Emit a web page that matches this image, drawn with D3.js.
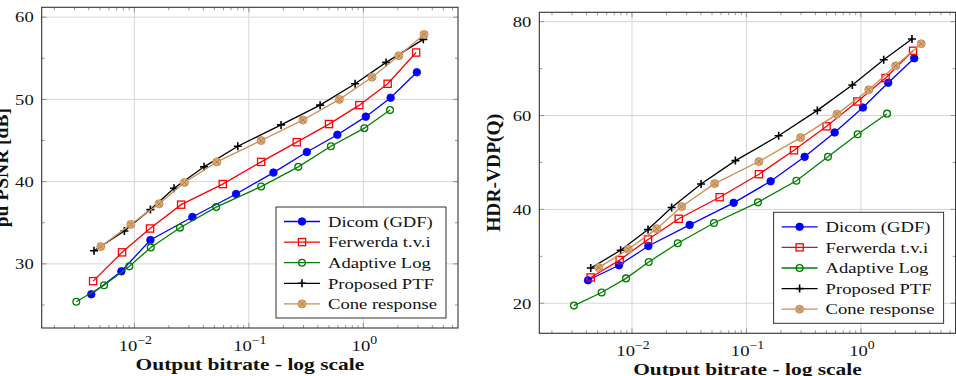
<!DOCTYPE html>
<html>
<head>
<meta charset="utf-8">
<script src="https://cdn.jsdelivr.net/npm/d3@7"></script>
<style>
  html, body { margin: 0; padding: 0; background: #fff; }
  svg { display: block; }
</style>
</head>
<body>
<script>
// ---------------- DATA ----------------
const seriesNames = ["Dicom (GDF)", "Ferwerda t.v.i", "Adaptive Log", "Proposed PTF", "Cone response"];

const xTickValues = [0.01, 0.1, 1];
const xTickExponents = ["\u22122", "\u22121", "0"];

// Left chart: pu PSNR [dB]
const psnrDicomX = [0.0042, 0.0077, 0.0138, 0.0321, 0.0773, 0.164, 0.321, 0.593, 1.05, 1.73, 2.93];
const psnrDicomY = [26.3, 29.1, 32.9, 35.7, 38.5, 41.1, 43.6, 45.7, 47.9, 50.2, 53.3];
const psnrFerwX = [0.00436, 0.0078, 0.0137, 0.0256, 0.0591, 0.128, 0.262, 0.501, 0.922, 1.63, 2.89];
const psnrFerwY = [27.9, 31.4, 34.3, 37.2, 39.7, 42.4, 44.8, 47.0, 49.3, 51.9, 55.7];
const psnrAdaptX = [0.00311, 0.00543, 0.00904, 0.0139, 0.025, 0.0518, 0.128, 0.27, 0.521, 1.02, 1.71];
const psnrAdaptY = [25.4, 27.4, 29.7, 32.0, 34.4, 36.9, 39.4, 41.8, 44.3, 46.5, 48.7];
const psnrPtfX = [0.00444, 0.00818, 0.0138, 0.0222, 0.0406, 0.080, 0.191, 0.419, 0.847, 1.58, 3.34];
const psnrPtfY = [31.6, 34.0, 36.6, 39.2, 41.8, 44.3, 46.9, 49.3, 51.9, 54.5, 57.3];
const psnrConeX = [0.00509, 0.0093, 0.01644, 0.02735, 0.0525, 0.128, 0.297, 0.617, 1.19, 2.04, 3.39];
const psnrConeY = [32.1, 34.8, 37.3, 39.9, 42.4, 45.0, 47.5, 50.0, 52.7, 55.3, 57.9];
const psnrYTicks = [30, 40, 50, 60];
const psnrYMinor = [25, 35, 45, 55];

// Right chart: HDR-VDP(Q)
const vdpDicomX = [0.00413, 0.0077, 0.0139, 0.0319, 0.0773, 0.1626, 0.322, 0.589, 1.04, 1.73, 2.92];
const vdpDicomY = [24.9, 28.1, 32.2, 36.7, 41.4, 46.0, 51.2, 56.4, 61.7, 67.0, 72.2];
const vdpFerwX = [0.00436, 0.0078, 0.0138, 0.0256, 0.0583, 0.1285, 0.260, 0.501, 0.930, 1.64, 2.85];
const vdpFerwY = [25.5, 29.2, 33.6, 38.0, 42.6, 47.5, 52.6, 57.7, 63.0, 68.0, 73.8];
const vdpAdaptX = [0.00311, 0.00543, 0.00887, 0.014, 0.0251, 0.052, 0.126, 0.273, 0.515, 0.935, 1.69];
const vdpAdaptY = [19.5, 22.3, 25.3, 28.8, 32.8, 37.1, 41.5, 46.1, 51.2, 56.0, 60.4];
const vdpPtfX = [0.00436, 0.00796, 0.0138, 0.0222, 0.0401, 0.080, 0.191, 0.416, 0.841, 1.58, 2.79];
const vdpPtfY = [27.5, 31.3, 35.7, 40.4, 45.4, 50.4, 55.7, 61.1, 66.5, 71.9, 76.3];
const vdpConeX = [0.00512, 0.0093, 0.01643, 0.0272, 0.0527, 0.1285, 0.297, 0.617, 1.17, 2.01, 3.36];
const vdpConeY = [27.6, 31.5, 35.9, 40.6, 45.5, 50.2, 55.3, 60.3, 65.5, 70.6, 75.3];
const vdpYTicks = [20, 40, 60, 80];
const vdpYMinor = [30, 50, 70];

// ---------------- STYLE ----------------
const W = 956, H = 376;
const FONT = "'Liberation Serif', 'DejaVu Serif', serif";
const SX = 1.2; // horizontal stretch matching the reference typesetting
const styles = [
  { color: "#0000ff", mark: "dot" },
  { color: "#ff0000", mark: "square" },
  { color: "#008000", mark: "circle" },
  { color: "#000000", mark: "plus" },
  { color: "#c98f57", fill: "#d9aa78", mark: "otimes" }
];

const svg = d3.select("body").append("svg")
  .attr("width", W).attr("height", H)
  .attr("font-family", FONT);

function addText(parent, x, y, opts) {
  return parent.append("text")
    .attr("transform", `translate(${x},${y}) scale(${opts.sx || SX},1)`)
    .attr("text-anchor", opts.anchor || "start")
    .attr("font-size", opts.size)
    .attr("font-weight", opts.weight || "normal")
    .attr("dy", opts.dy || null)
    .attr("fill", "#111");
}

function drawMark(sel, st) {
  if (st.mark === "dot") {
    sel.append("circle").attr("r", 3.8).attr("fill", st.color).attr("stroke", st.color).attr("stroke-width", 0.8);
  } else if (st.mark === "square") {
    sel.append("rect").attr("x", -3.6).attr("y", -3.6).attr("width", 7.2).attr("height", 7.2)
      .attr("fill", "none").attr("stroke", st.color).attr("stroke-width", 1.3);
  } else if (st.mark === "circle") {
    sel.append("circle").attr("r", 3.4).attr("fill", "none").attr("stroke", st.color).attr("stroke-width", 1.3);
  } else if (st.mark === "plus") {
    sel.append("path").attr("d", "M-4,0H4M0,-4V4").attr("stroke", st.color).attr("stroke-width", 1.6);
  } else if (st.mark === "otimes") {
    sel.append("circle").attr("r", 4).attr("fill", st.fill).attr("stroke", st.color).attr("stroke-width", 1);
    sel.append("path").attr("d", "M-2.8,-2.8L2.8,2.8M-2.8,2.8L2.8,-2.8").attr("stroke", "#b07840").attr("stroke-width", 0.9);
  }
}

function drawChart(cfg) {
  const x = d3.scaleLog().domain(cfg.xDomain).range([cfg.left, cfg.right]);
  const y = d3.scaleLinear().domain(cfg.yDomain).range([cfg.bottom, cfg.top]);
  const g = svg.append("g");

  // major grid
  g.append("g").selectAll("line").data(xTickValues).join("line")
    .attr("x1", d => x(d)).attr("x2", d => x(d)).attr("y1", cfg.top).attr("y2", cfg.bottom)
    .attr("stroke", "#d6d6d6").attr("stroke-width", 1);
  g.append("g").selectAll("line").data(cfg.yTicks).join("line")
    .attr("y1", d => y(d)).attr("y2", d => y(d)).attr("x1", cfg.left).attr("x2", cfg.right)
    .attr("stroke", "#d6d6d6").attr("stroke-width", 1);

  // ticks (inside, mirrored)
  const xMinor = [];
  for (let e = -3; e <= 1; e++) for (let m = 2; m <= 9; m++) {
    const v = m * Math.pow(10, e);
    if (v > cfg.xDomain[0] && v < cfg.xDomain[1]) xMinor.push(v);
  }
  const tg = g.append("g").attr("stroke", "#808080").attr("stroke-width", 0.8);
  [[xMinor, 3], [xTickValues, 5]].forEach(([vals, len]) => {
    tg.selectAll(null).data(vals).join("line")
      .attr("x1", d => x(d)).attr("x2", d => x(d)).attr("y1", cfg.bottom).attr("y2", cfg.bottom - len);
    tg.selectAll(null).data(vals).join("line")
      .attr("x1", d => x(d)).attr("x2", d => x(d)).attr("y1", cfg.top).attr("y2", cfg.top + len);
  });
  [[cfg.yMinor, 3], [cfg.yTicks, 5]].forEach(([vals, len]) => {
    tg.selectAll(null).data(vals).join("line")
      .attr("y1", d => y(d)).attr("y2", d => y(d)).attr("x1", cfg.left).attr("x2", cfg.left + len);
    tg.selectAll(null).data(vals).join("line")
      .attr("y1", d => y(d)).attr("y2", d => y(d)).attr("x1", cfg.right).attr("x2", cfg.right - len);
  });

  // tick labels
  cfg.yTicks.forEach(v => {
    addText(g, cfg.left - 8, y(v), { anchor: "end", size: 15.5, dy: "0.34em" }).text(v);
  });
  xTickValues.forEach((v, i) => {
    const t = addText(g, x(v) + 1, cfg.bottom + 22.5, { anchor: "middle", size: 15.5 });
    t.append("tspan").text("10");
    t.append("tspan").attr("dy", -7).attr("font-size", 11.5).text(xTickExponents[i]);
  });

  // series
  cfg.series.forEach((s, i) => {
    const st = styles[i];
    const pts = s.x.map((v, j) => [v, s.y[j]]);
    g.append("path").datum(pts)
      .attr("d", d3.line().x(d => x(d[0])).y(d => y(d[1])))
      .attr("fill", "none").attr("stroke", st.color).attr("stroke-width", 1.3);
    g.append("g").selectAll("g").data(pts).join("g")
      .attr("transform", d => `translate(${x(d[0])},${y(d[1])})`)
      .each(function () { drawMark(d3.select(this), st); });
  });

  // frame
  g.append("rect").attr("x", cfg.left).attr("y", cfg.top)
    .attr("width", cfg.right - cfg.left).attr("height", cfg.bottom - cfg.top)
    .attr("fill", "none").attr("stroke", "#333").attr("stroke-width", 1.1);

  // axis labels
  addText(g, (cfg.left + cfg.right) / 2, cfg.bottom + 41.5, { anchor: "middle", size: 16.5, weight: "bold", sx: 1.3 })
    .text("Output bitrate - log scale");
  g.append("text")
    .attr("transform", `translate(${cfg.yLabelX},${(cfg.top + cfg.bottom) / 2}) rotate(-90)`)
    .attr("text-anchor", "middle").attr("font-weight", "bold").attr("font-size", 19.5).attr("fill", "#111")
    .text(cfg.yLabel);

  // legend
  const lw = 170, lh = 111;
  const lx = cfg.right - 12 - lw, ly = cfg.bottom - 10 - lh;
  const lg = g.append("g").attr("transform", `translate(${lx},${ly})`);
  lg.append("rect").attr("width", lw).attr("height", lh).attr("fill", "#fff")
    .attr("stroke", "#333").attr("stroke-width", 1);
  seriesNames.forEach((name, i) => {
    const st = styles[i];
    const cy = 14.5 + i * 20.6;
    const row = lg.append("g").attr("transform", `translate(0,${cy})`);
    row.append("line").attr("x1", 8).attr("x2", 44).attr("stroke", st.color).attr("stroke-width", 1.3);
    const m = row.append("g").attr("transform", "translate(26,0)");
    drawMark(m, st);
    addText(row, 52, 0, { size: 15.5, dy: "0.34em" }).text(name);
  });
}

drawChart({
  left: 41.7, right: 458, top: 7.3, bottom: 328,
  xDomain: [0.00155, 6.71], yDomain: [22.2, 61.2],
  yTicks: psnrYTicks, yMinor: psnrYMinor, yLabel: "pu PSNR [dB]", yLabelX: 7.5,
  series: [
    { x: psnrDicomX, y: psnrDicomY },
    { x: psnrFerwX, y: psnrFerwY },
    { x: psnrAdaptX, y: psnrAdaptY },
    { x: psnrPtfX, y: psnrPtfY },
    { x: psnrConeX, y: psnrConeY }
  ]
});

drawChart({
  left: 539.3, right: 955.6, top: 12.3, bottom: 333.3,
  xDomain: [0.00155, 6.71], yDomain: [13.6, 82.0],
  yTicks: vdpYTicks, yMinor: vdpYMinor, yLabel: "HDR-VDP(Q)", yLabelX: 500,
  series: [
    { x: vdpDicomX, y: vdpDicomY },
    { x: vdpFerwX, y: vdpFerwY },
    { x: vdpAdaptX, y: vdpAdaptY },
    { x: vdpPtfX, y: vdpPtfY },
    { x: vdpConeX, y: vdpConeY }
  ]
});
</script>
</body>
</html>
